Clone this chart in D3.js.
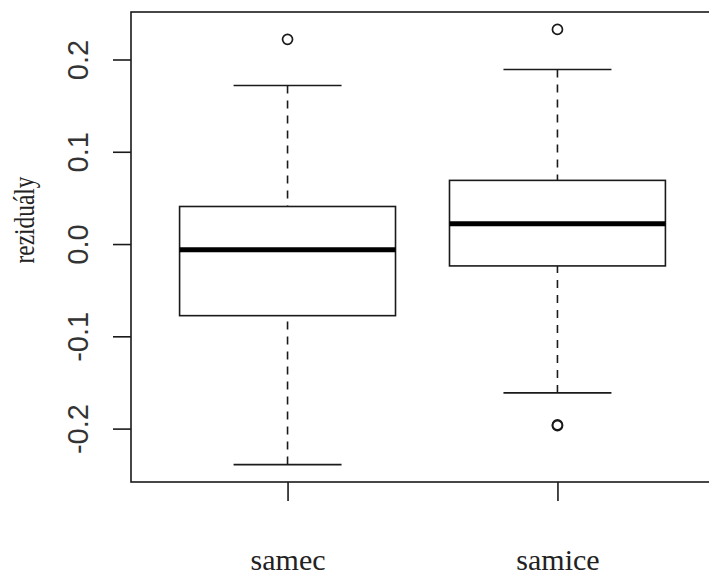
<!DOCTYPE html>
<html>
<head>
<meta charset="utf-8">
<script src="https://cdn.jsdelivr.net/npm/d3@7"></script>
<style>
  html, body { margin: 0; padding: 0; background: #fff; }
  svg { display: block; }
</style>
</head>
<body>
<svg id="chart" width="709" height="578"></svg>
<script>
// ---- data ----
const categories = ["samec", "samice"];
const lowerWhisker = [-0.2390, -0.1613];
const q1           = [-0.0776, -0.0237];
const median       = [-0.0063,  0.0219];
const q3           = [ 0.0407,  0.0690];
const upperWhisker = [ 0.1718,  0.1892];
const outliers = [
  [0.2218],
  [0.2326, -0.1960, -0.1968]
];
const yTicks = [-0.2, -0.1, 0.0, 0.1, 0.2];
const yTickLabels = ["-0.2", "-0.1", "0.0", "0.1", "0.2"];
const yLabel = "reziduály";

// ---- layout ----
const svg = d3.select("#chart");
const plot = { left: 131, top: 12, right: 714, bottom: 482 };
const ink = "#1a1a1a";
const lw = 1.6;

// y domain: data extent extended by 4% (like R)
const allVals = lowerWhisker.concat(upperWhisker, outliers.flat());
const ymin = d3.min(allVals), ymax = d3.max(allVals);
const pad = (ymax - ymin) * 0.04;
const y = d3.scaleLinear().domain([ymin - pad, ymax + pad]).range([plot.bottom, plot.top]);

// x: positions 1..n, xlim (0.5, n+0.5) extended 4%
const n = categories.length;
const x = d3.scaleLinear()
  .domain([0.5 - 0.04 * n, n + 0.5 + 0.04 * n])
  .range([plot.left, plot.right]);
const boxW = 0.8;

const g = svg.append("g");

categories.forEach((c, i) => {
  const pos = i + 1;
  const cx = x(pos);
  const x0 = x(pos - boxW / 2), x1 = x(pos + boxW / 2);
  const s0 = x(pos - boxW / 4), s1 = x(pos + boxW / 4);
  const grp = g.append("g");
  // whiskers (dashed), drawn from cap toward box
  grp.append("line")
    .attr("x1", cx).attr("x2", cx)
    .attr("y1", y(lowerWhisker[i])).attr("y2", y(q1[i]))
    .attr("stroke", ink).attr("stroke-width", lw).attr("stroke-dasharray", "8,7");
  grp.append("line")
    .attr("x1", cx).attr("x2", cx)
    .attr("y1", y(upperWhisker[i])).attr("y2", y(q3[i]))
    .attr("stroke", ink).attr("stroke-width", lw).attr("stroke-dasharray", "8,7");
  // staples
  [lowerWhisker[i], upperWhisker[i]].forEach(v => {
    grp.append("line")
      .attr("x1", s0).attr("x2", s1)
      .attr("y1", y(v)).attr("y2", y(v))
      .attr("stroke", ink).attr("stroke-width", lw);
  });
  // box
  grp.append("rect")
    .attr("x", x0).attr("y", y(q3[i]))
    .attr("width", x1 - x0).attr("height", y(q1[i]) - y(q3[i]))
    .attr("fill", "#fff").attr("stroke", ink).attr("stroke-width", lw);
  // median
  grp.append("line")
    .attr("x1", x0).attr("x2", x1)
    .attr("y1", y(median[i])).attr("y2", y(median[i]))
    .attr("stroke", "#000").attr("stroke-width", 5);
  // outliers
  outliers[i].forEach(v => {
    grp.append("circle")
      .attr("cx", cx).attr("cy", y(v)).attr("r", 5)
      .attr("fill", "none").attr("stroke", ink).attr("stroke-width", 1.7);
  });
});

// plot frame
svg.append("rect")
  .attr("x", plot.left).attr("y", plot.top)
  .attr("width", plot.right - plot.left).attr("height", plot.bottom - plot.top)
  .attr("fill", "none").attr("stroke", ink).attr("stroke-width", lw);

// y axis
const yAxis = d3.axisLeft(y)
  .tickValues(yTicks)
  .tickSize(18)
  .tickFormat((d, i) => yTickLabels[i]);
const ya = svg.append("g")
  .attr("transform", `translate(${plot.left},0)`)
  .call(yAxis);
ya.select(".domain").remove();
ya.selectAll(".tick line").attr("stroke", ink).attr("stroke-width", lw);
ya.selectAll(".tick text")
  .attr("x", null).attr("dy", null)
  .attr("transform", "translate(-43,0) rotate(-90)")
  .attr("text-anchor", "middle")
  .attr("fill", "#333")
  .style("font-family", "'Liberation Sans', Arial, sans-serif")
  .style("font-size", "29px");

// x axis
const xAxis = d3.axisBottom(x)
  .tickValues(categories.map((c, i) => i + 1))
  .tickSize(19)
  .tickFormat((d, i) => categories[i]);
const xa = svg.append("g")
  .attr("transform", `translate(0,${plot.bottom})`)
  .call(xAxis);
xa.select(".domain").remove();
xa.selectAll(".tick line").attr("stroke", ink).attr("stroke-width", lw);
xa.selectAll(".tick text")
  .attr("y", 88).attr("dy", null)
  .attr("fill", "#222")
  .style("font-family", "'Liberation Serif', 'Times New Roman', serif")
  .style("font-size", "30px");

// y label
svg.append("text")
  .attr("transform", `translate(34,220) rotate(-90)`)
  .attr("text-anchor", "middle")
  .attr("fill", "#222")
  .attr("textLength", 87)
  .attr("lengthAdjust", "spacingAndGlyphs")
  .style("font-family", "'Liberation Serif', 'Times New Roman', serif")
  .style("font-size", "30px")
  .text(yLabel);
</script>
</body>
</html>
